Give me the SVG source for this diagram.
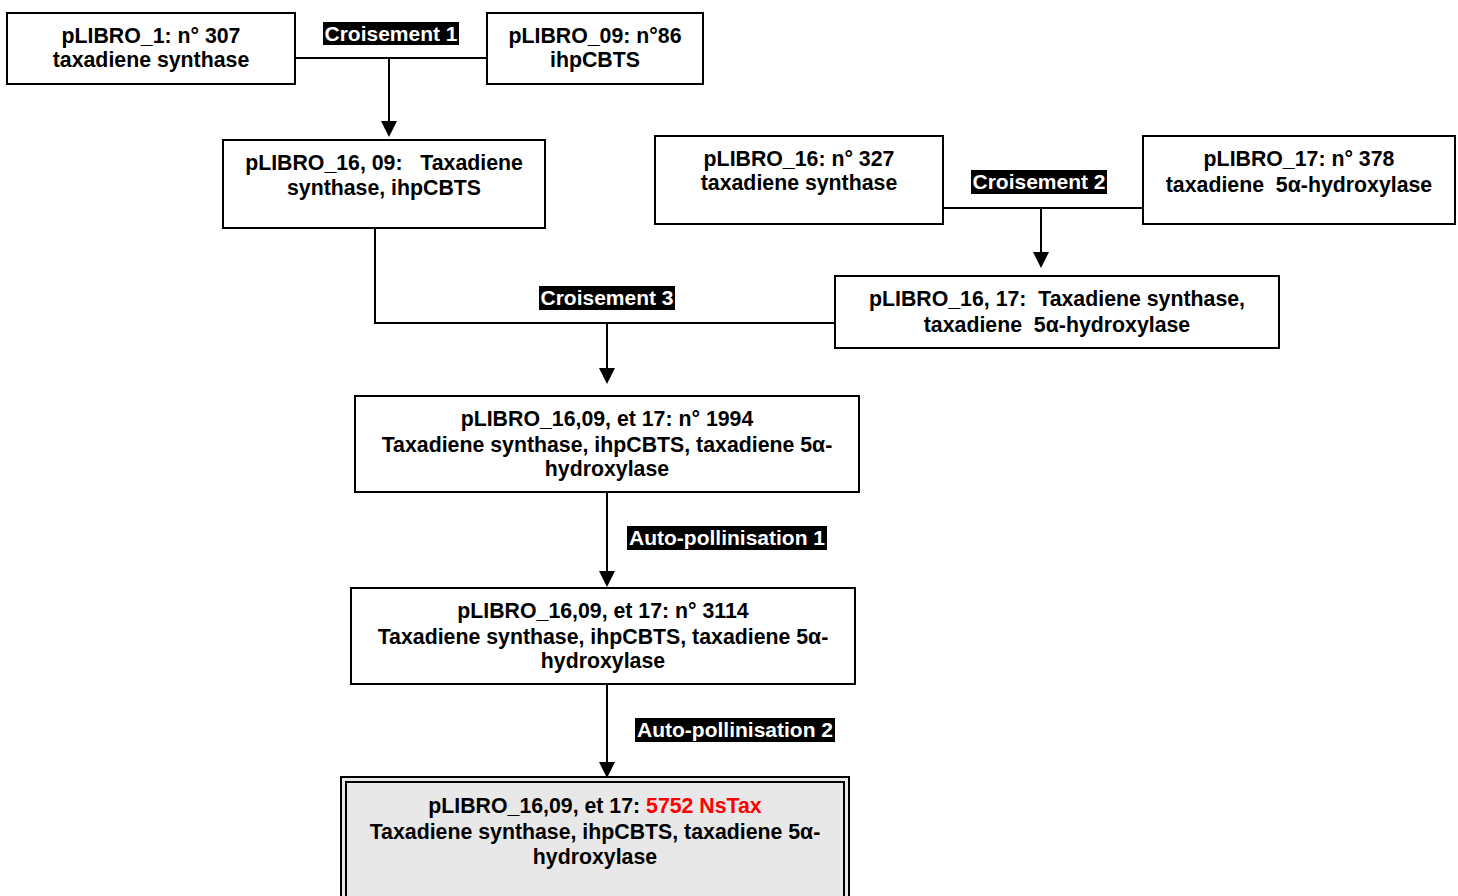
<svg xmlns="http://www.w3.org/2000/svg" width="1458" height="896" viewBox="0 0 1458 896">
<defs>
<style>
.box{fill:#fff;stroke:#000;stroke-width:2}
.t{font-family:"Liberation Sans",Arial,sans-serif;font-weight:bold;font-size:21.3px;fill:#000;text-anchor:middle}
.lbl{font-family:"Liberation Sans",Arial,sans-serif;font-weight:bold;font-size:21px;fill:#fff;text-anchor:middle}
.lblbg{fill:#000}
.ln{fill:none;stroke:#000;stroke-width:2}
.ah{fill:#000}
.red{fill:#ff0000}
</style>
</defs>
<rect width="1458" height="896" fill="#fff"/>

<g id="connectors">
<path class="ln" d="M295,58 H487"/>
<path class="ln" d="M389,58 V123"/>
<path class="ah" d="M381,121 L397,121 L389,137 z"/>
<path class="ln" d="M943,208 H1143"/>
<path class="ln" d="M1041,208 V254"/>
<path class="ah" d="M1033,252 L1049,252 L1041,268 z"/>
<path class="ln" d="M375,228 V323 H835"/>
<path class="ln" d="M607,323 V370"/>
<path class="ah" d="M599,368 L615,368 L607,384 z"/>
<path class="ln" d="M607,492 V573"/>
<path class="ah" d="M599,571 L615,571 L607,587 z"/>
<path class="ln" d="M607,684 V764"/>
<path class="ah" d="M599,762 L615,762 L607,778 z"/>
<g id="label-c1"><rect class="lblbg" x="323" y="22" width="136" height="23"/><text class="lbl" x="391" y="41">Croisement 1</text></g>
<g id="label-c2"><rect class="lblbg" x="971" y="170" width="136" height="24"/><text class="lbl" x="1039" y="189">Croisement 2</text></g>
<g id="label-c3"><rect class="lblbg" x="539" y="286" width="136" height="24"/><text class="lbl" x="607" y="305">Croisement 3</text></g>
<g id="label-a1"><rect class="lblbg" x="627" y="526" width="200" height="24"/><text class="lbl" x="727" y="545">Auto-pollinisation 1</text></g>
<g id="label-a2"><rect class="lblbg" x="635" y="718" width="200" height="24"/><text class="lbl" x="735" y="737">Auto-pollinisation 2</text></g>
</g>

<g id="n1"><rect class="box" x="7" y="13" width="288" height="71"/>
<text class="t" x="151" y="43">pLIBRO_1: n° 307</text>
<text class="t" x="151" y="67">taxadiene synthase</text></g>

<g id="n2"><rect class="box" x="487" y="13" width="216" height="71"/>
<text class="t" x="595" y="43">pLIBRO_09: n°86</text>
<text class="t" x="595" y="67">ihpCBTS</text></g>

<g id="n3"><rect class="box" x="223" y="140" width="322" height="88"/>
<text class="t" x="384" y="170" xml:space="preserve">pLIBRO_16, 09:   Taxadiene</text>
<text class="t" x="384" y="195">synthase, ihpCBTS</text></g>

<g id="n4"><rect class="box" x="655" y="136" width="288" height="88"/>
<text class="t" x="799" y="166">pLIBRO_16: n° 327</text>
<text class="t" x="799" y="190">taxadiene synthase</text></g>

<g id="n5"><rect class="box" x="1143" y="136" width="312" height="88"/>
<text class="t" x="1299" y="166">pLIBRO_17: n° 378</text>
<text class="t" x="1299" y="192" xml:space="preserve">taxadiene  5α-hydroxylase</text></g>

<g id="n6"><rect class="box" x="835" y="276" width="444" height="72"/>
<text class="t" x="1057" y="306" xml:space="preserve">pLIBRO_16, 17:  Taxadiene synthase,</text>
<text class="t" x="1057" y="332" xml:space="preserve">taxadiene  5α-hydroxylase</text></g>

<g id="n7"><rect class="box" x="355" y="396" width="504" height="96"/>
<text class="t" x="607" y="426">pLIBRO_16,09, et 17: n° 1994</text>
<text class="t" x="607" y="452">Taxadiene synthase, ihpCBTS, taxadiene 5α-</text>
<text class="t" x="607" y="476">hydroxylase</text></g>

<g id="n8"><rect class="box" x="351" y="588" width="504" height="96"/>
<text class="t" x="603" y="618">pLIBRO_16,09, et 17: n° 3114</text>
<text class="t" x="603" y="644">Taxadiene synthase, ihpCBTS, taxadiene 5α-</text>
<text class="t" x="603" y="668">hydroxylase</text></g>

<g id="n9"><rect x="341" y="777" width="508" height="130" fill="#e8e8e8" stroke="#000" stroke-width="2"/>
<rect x="346" y="782" width="498" height="130" fill="none" stroke="#000" stroke-width="2"/>
<text class="t" x="595" y="813">pLIBRO_16,09, et 17: <tspan class="red">5752 NsTax</tspan></text>
<text class="t" x="595" y="839">Taxadiene synthase, ihpCBTS, taxadiene 5α-</text>
<text class="t" x="595" y="864">hydroxylase</text></g>
</svg>
